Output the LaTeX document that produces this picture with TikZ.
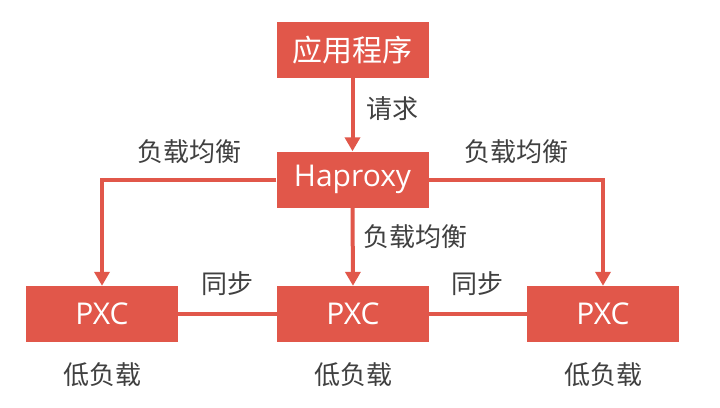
\documentclass[tikz,border=0pt]{standalone}
\usepackage{fontspec}
\setmainfont{Open Sans}
\newfontfamily\cjk{Noto Sans CJK SC}
\usetikzlibrary{arrows.meta}
\definecolor{boxred}{RGB}{225,87,74}
\definecolor{labgray}{RGB}{64,64,64}
\tikzset{
  redbox/.style={draw=none,fill=boxred,text=white,minimum width=152pt,minimum height=56pt,inner sep=0pt,font=\fontsize{30}{32}\selectfont},
  conn/.style={draw=boxred,line width=4pt},
  arr/.style={conn,-{Triangle[length=14pt,width=15pt]}},
  lab/.style={text=labgray,inner sep=0pt,font=\cjk\fontsize{26}{28}\selectfont}
}
\begin{document}
\begin{tikzpicture}[x=1pt,y=-1pt]
\useasboundingbox[fill=white] (0,0) rectangle (720,407);
\node[redbox,font=\cjk\fontsize{30}{32}\selectfont] (app) at (352.5,50) {应用程序};
\node[redbox] (ha) at (352.5,179.5) {Haproxy};
\node[redbox] (p1) at (102,314) {PXC};
\node[redbox] (p2) at (353,314) {PXC};
\node[redbox] (p3) at (603,314) {PXC};
\draw[arr] (app.south) -- (ha.north);
\draw[arr] (ha.west) -| (p1.north);
\draw[arr] (ha.east) -| (p3.north);
\draw[arr] (ha.south) -- (p2.north);
\draw[conn] (p1.east) -- (p2.west);
\draw[conn] (p2.east) -- (p3.west);
\node[lab] (l1) at (392,109) {请求};
\node[lab] (l2) at (189,152) {负载均衡};
\node[lab] (l3) at (516,152) {负载均衡};
\node[lab] (l4) at (415,237) {负载均衡};
\node[lab] (l5) at (227,284) {同步};
\node[lab] (l6) at (477,284) {同步};
\node[lab] (l7) at (102,375) {低负载};
\node[lab] (l8) at (353,375) {低负载};
\node[lab] (l9) at (603,375) {低负载};
\end{tikzpicture}
\end{document}
